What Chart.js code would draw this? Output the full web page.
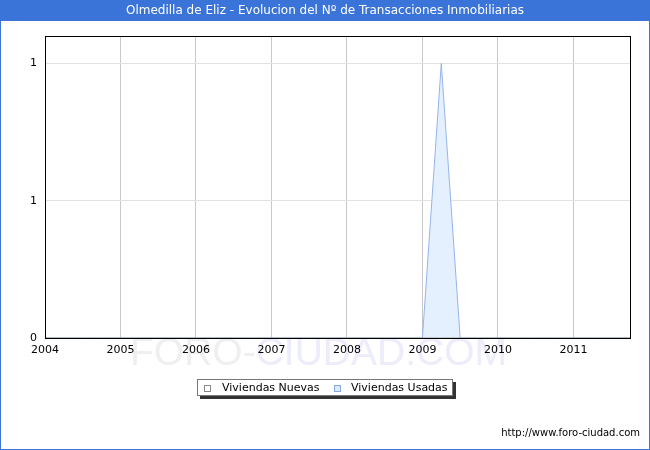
<!DOCTYPE html>
<html>
<head>
<meta charset="utf-8">
<title>Olmedilla de Eliz</title>
<script src="https://cdn.jsdelivr.net/npm/chart.js@4/dist/chart.umd.min.js"></script>
<style>
body { margin: 0; background: #fff; }
</style>
</head>
<body>
<canvas id="grafico" width="650" height="450"></canvas>
<script>
const TITULO = 'Olmedilla de Eliz - Evolucion del Nº de Transacciones Inmobiliarias';
const URL_WEB = 'http://www.foro-ciudad.com';
const AZUL = '#3a74d9';

const anios = [2004, 2005, 2006, 2007, 2008, 2009, 2010, 2011];
// valores trimestrales, T1..T4 de cada año
const nuevas = [
    0, 0, 0, 0,   // 2004
    0, 0, 0, 0,   // 2005
    0, 0, 0, 0,   // 2006
    0, 0, 0, 0,   // 2007
    0, 0, 0, 0,   // 2008
    0, 0, 0, 0,   // 2009
    0, 0, 0, 0,   // 2010
    0, 0, 0, 0    // 2011
];
const usadas = [
    0, 0, 0, 0,   // 2004
    0, 0, 0, 0,   // 2005
    0, 0, 0, 0,   // 2006
    0, 0, 0, 0,   // 2007
    0, 0, 0, 0,   // 2008
    0, 1, 0, 0,   // 2009
    0, 0, 0, 0,   // 2010
    0, 0, 0, 0    // 2011
];
const yTicks = [0, 0.5, 1];
const leyenda = ['Viviendas Nuevas', 'Viviendas Usadas'];

const trimestre = (i) => anios[Math.floor(i / 4)] + (i % 4) / 4;
const puntos = (serie) => serie.map((v, i) => ({ x: trimestre(i), y: v }));

const FUENTE = '"DejaVu Sans", Verdana, sans-serif';

const decorado = {
    id: 'decorado',
    beforeDraw(chart) {
        const ctx = chart.ctx;
        ctx.save();
        ctx.fillStyle = '#fff';
        ctx.fillRect(0, 0, 650, 450);
        // marca de agua
        ctx.font = '39px "Liberation Sans", Arial, sans-serif';
        ctx.textBaseline = 'alphabetic';
        ctx.textAlign = 'left';
        ctx.fillStyle = '#efefef';
        ctx.fillText('FORO-', 130, 365);
        let w = ctx.measureText('FORO-').width;
        ctx.fillStyle = '#ececfb';
        ctx.fillText('CIUDAD.COM', 130 + w, 365);
        ctx.restore();
    },
    afterDatasetsDraw(chart) {
        const ctx = chart.ctx;
        const a = chart.chartArea;
        ctx.save();
        ctx.strokeStyle = '#000';
        ctx.lineWidth = 1;
        ctx.strokeRect(Math.round(a.left) + 0.5, Math.round(a.top) + 0.5,
            Math.round(a.right - a.left), Math.round(a.bottom - a.top));
        ctx.restore();
    },
    afterDraw(chart) {
        const ctx = chart.ctx;
        ctx.save();
        // barra del titulo y marco
        ctx.fillStyle = AZUL;
        ctx.fillRect(0, 0, 650, 21);
        ctx.strokeStyle = AZUL;
        ctx.lineWidth = 1;
        ctx.strokeRect(0.5, 0.5, 649, 449);
        ctx.fillStyle = '#fff';
        ctx.font = '12px ' + FUENTE;
        ctx.textAlign = 'center';
        ctx.textBaseline = 'middle';
        ctx.fillText(TITULO, 325, 11);

        // leyenda
        ctx.fillStyle = '#333';
        ctx.fillRect(200, 382, 256, 17);
        ctx.fillStyle = '#fff';
        ctx.fillRect(197, 379, 256, 17);
        ctx.strokeStyle = '#777';
        ctx.strokeRect(197.5, 379.5, 255, 16);

        ctx.fillStyle = '#fff';
        ctx.strokeStyle = '#888';
        ctx.fillRect(204, 385, 7, 7);
        ctx.strokeRect(204.5, 385.5, 6, 6);
        ctx.fillStyle = '#dcebfb';
        ctx.strokeStyle = '#8aa8e0';
        ctx.fillRect(334, 385, 7, 7);
        ctx.strokeRect(334.5, 385.5, 6, 6);

        ctx.fillStyle = '#000';
        ctx.font = '11px ' + FUENTE;
        ctx.textAlign = 'left';
        ctx.fillText(leyenda[0], 222, 388);
        ctx.fillText(leyenda[1], 351, 388);

        // url
        ctx.font = '10px ' + FUENTE;
        ctx.textAlign = 'right';
        ctx.fillText(URL_WEB, 640, 433);
        ctx.restore();
    }
};

new Chart(document.getElementById('grafico'), {
    type: 'line',
    data: {
        datasets: [{
            label: leyenda[0],
            data: puntos(nuevas),
            borderColor: '#999',
            backgroundColor: '#fff',
            borderWidth: 1,
            pointRadius: 0,
            tension: 0,
            fill: false
        }, {
            label: leyenda[1],
            data: puntos(usadas),
            borderColor: '#95b4ec',
            backgroundColor: '#e4f0fe',
            borderWidth: 1,
            pointRadius: 0,
            tension: 0,
            fill: 'origin'
        }]
    },
    options: {
        responsive: false,
        animation: false,
        devicePixelRatio: 1,
        layout: { padding: { left: 0, top: 36, right: 20, bottom: 92 } },
        plugins: {
            legend: { display: false },
            title: { display: false },
            tooltip: { enabled: false }
        },
        scales: {
            x: {
                type: 'linear',
                min: anios[0],
                max: 2011.75,
                afterFit: (s) => { s.height = 20; },
                grid: { color: '#c8c8c8', drawTicks: false },
                border: { color: '#000' },
                ticks: {
                    stepSize: 1,
                    includeBounds: false,
                    padding: 6,
                    maxRotation: 0,
                    color: '#000',
                    font: { family: FUENTE, size: 11 },
                    callback: (v) => String(v)
                }
            },
            y: {
                min: 0,
                max: 1.1,
                afterFit: (s) => { s.width = 45; },
                afterBuildTicks: (s) => { s.ticks = yTicks.map(v => ({ value: v })); },
                grid: { color: '#e2e2e2', drawTicks: false },
                border: { color: '#000' },
                ticks: {
                    padding: 8,
                    color: '#000',
                    font: { family: FUENTE, size: 11 },
                    callback: (v) => String(Math.round(v))
                }
            }
        }
    },
    plugins: [decorado]
});
</script>
</body>
</html>
